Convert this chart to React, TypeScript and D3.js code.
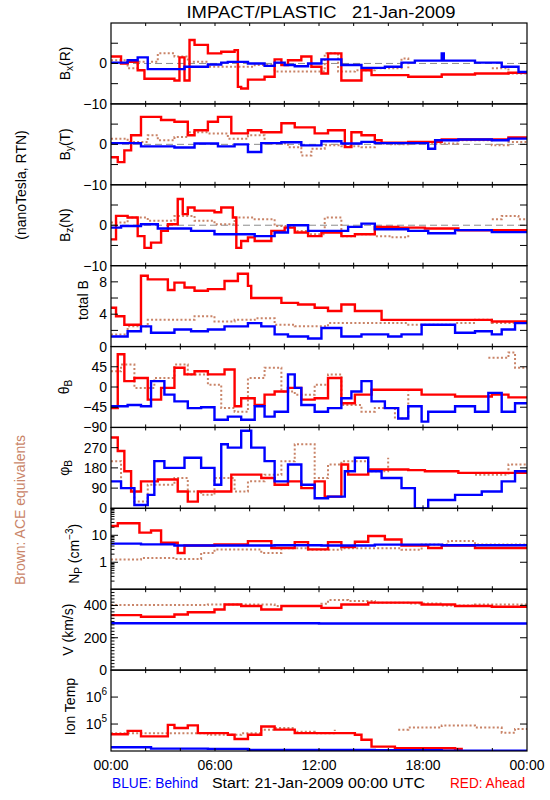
import React from 'react';
import * as d3 from 'd3';

type P = [number, number];
const N = NaN;

const hourTicks = [0, 2, 4, 6, 8, 10, 12, 14, 16, 18, 20, 22, 24];
const hourLabels: [number, string][] = [[0, '00:00'], [6, '06:00'], [12, '12:00'], [18, '18:00'], [24, '00:00']];

// Bx (nT)
const bxBlue: P[] = [[0,0.2],[0.96,0.8],[1.54,1.5],[2.12,-1.4],[4.24,-0.8],[5.59,-0.25],[6.36,0.2],[6.74,0.4],[7.9,0],[8.86,-0.6],[9.44,0.2],[10.02,-0.4],[10.6,-0.7],[11.37,0],[12.14,1.0],[13.29,-0.4],[14.45,-1.1],[15.8,-0.8],[16.76,0.2],[17.53,0.7],[19.08,2.5],[19.2,0.7],[21.0,0.2],[22.54,-0.8],[23.51,-2.1],[24,-2.1]];
const bxRed: P[] = [[0,1.7],[0.58,0],[0.96,0.4],[1.54,-1.7],[1.93,-3.8],[3.66,-4.2],[3.95,1.5],[4.24,-4.2],[4.53,5.8],[4.82,4.6],[5.59,2.5],[6.36,2.9],[7.13,3.3],[7.32,-5.8],[7.51,-6.2],[7.9,-4],[8.86,-3.3],[9.44,1],[9.83,-0.4],[10.21,0.8],[10.98,1.7],[11.56,-0.8],[12.14,-2.5],[12.52,2.5],[13.29,-4.2],[14.45,-1.7],[15.03,-2.9],[17.15,-3.3],[19.08,-2.75],[21.0,-2.5],[22.93,-2.3],[24,-2.3]];
const bxBrown: P[] = [[0,0.8],[0.96,-1.2],[1.54,0.4],[2.7,2.5],[3.66,1.7],[4.43,0.4],[5.59,-0.8],[8.29,-0.4],[9.44,-2],[11.75,-2],[12.33,2.5],[13.1,-2],[14.07,-1.7],[15.22,-1.2],[16.76,1.2],[17.15,-1.2],[17.92,N],[21.97,-1.2],[22.93,-2.5],[24,-2.5]];

// By (nT)
const byBlue: P[] = [[0,0.3],[1.73,-0.5],[3.66,-0.8],[4.82,0.2],[6.17,-0.5],[7.13,0],[7.9,-1.9],[8.67,0.3],[9.83,0.5],[10.98,-0.25],[12.14,0.75],[13.29,0.2],[14.45,0.6],[15.22,0.3],[18.3,-1.1],[18.7,1.0],[20.04,1.2],[21.97,1.0],[22.93,1.4],[24,1.4]];
const byRed: P[] = [[0,-3.2],[0.39,-4.4],[0.77,-1.5],[1.16,2.25],[1.73,6.8],[2.89,6.0],[3.66,5.6],[4.43,2.25],[4.82,3.5],[5.59,5.6],[6.17,6.8],[6.94,2.7],[7.9,3.5],[8.67,3.0],[9.83,5.2],[10.6,4.2],[11.75,2.7],[12.52,3.5],[13.49,-0.7],[13.87,3.0],[14.45,2.25],[15.22,1.0],[15.61,0.4],[17.15,0.6],[19.08,1.2],[22.93,1.7],[24,1.7]];
const byBrown: P[] = [[0,1.4],[0.96,0.6],[2.12,2.25],[2.7,1.0],[3.66,1.8],[4.43,3.0],[5.59,2.7],[6.74,1.4],[7.9,2.25],[8.86,0.2],[10.21,-0.7],[10.98,-2.75],[11.56,-1.1],[12.33,-0.25],[13.29,-0.5],[14.45,-0.7],[15.22,0.2],[15.99,0],[17.15,0.2],[20.04,1.0],[21.97,-0.25],[22.93,0.6],[24,0.6]];

// Bz (nT)
const bzBlue: P[] = [[0,-0.6],[0.58,-0.2],[1.73,0.25],[2.7,-0.8],[4.62,-1.4],[5.97,-2.25],[8.29,-2.7],[9.44,-1.8],[10.21,0],[11.37,-1.4],[13.68,-0.4],[14.45,0.4],[15.22,-1.0],[17.15,-1.4],[18.3,-2.0],[19.85,-1.2],[21.97,-1.7],[24,-1.7]];
const bzRed: P[] = [[0,-3.5],[0.29,2.3],[0.96,1.9],[1.54,-2.7],[1.93,-5.6],[2.31,-4.3],[2.89,-1.4],[3.28,0.25],[3.85,6.5],[4.14,2.75],[4.43,4.4],[4.82,3.6],[5.97,3.2],[6.36,4.4],[7.03,1.9],[7.23,-5.6],[7.51,-3.9],[7.9,-3.0],[8.29,-3.9],[9.25,-1.4],[10.02,-0.6],[10.6,-1.8],[11.37,-2.7],[12.14,-1.8],[13.29,-2.7],[14.07,-2.25],[15.22,-0.4],[16.57,-0.6],[18.11,-0.8],[20.04,-1.25],[24,-1.25]];
const bzBrown: P[] = [[0,0.7],[0.96,1.9],[2.12,1.1],[3.66,2.3],[4.82,1.1],[5.97,0.25],[7.13,1.9],[8.29,1.5],[9.44,-0.2],[10.6,-1.4],[11.37,-2.25],[12.33,1.9],[13.29,-2.7],[14.07,-2.25],[15.22,-2.7],[16.18,-3.0],[17.15,-2.25],[17.92,N],[21.97,1.5],[22.54,2.3],[23.51,1.5],[24,1.5]];

// total B (nT)
const btBlue: P[] = [[0,1.25],[0.96,1.9],[1.73,2.5],[2.31,1.7],[3.66,2.1],[4.62,1.9],[5.59,2.1],[6.55,2.5],[7.9,2.9],[8.67,2.5],[9.44,1.5],[10.21,1.25],[11.37,1.0],[12.14,2.3],[13.29,1.25],[14.45,1.5],[15.99,1.25],[16.76,1.5],[17.92,2.7],[19.85,1.7],[21.0,1.9],[21.97,1.5],[22.54,2.1],[23.31,2.9],[24,2.9]];
const btRed: P[] = [[0,4.8],[0.29,3.75],[0.77,2.7],[1.73,8.75],[2.12,8.3],[3.28,7.0],[3.66,7.9],[4.24,7.3],[4.82,6.9],[5.59,7.1],[6.55,8.1],[7.32,9.0],[7.9,7.5],[8.09,6.0],[9.44,6.0],[9.83,5.4],[10.79,5.2],[11.75,4.8],[12.52,4.4],[13.29,5.2],[14.07,4.4],[15.61,3.3],[21.97,3.1],[24,3.1]];
const btBrown: P[] = [[0,1.5],[0.96,2.5],[2.12,3.3],[4.82,3.75],[5.97,3.1],[7.13,3.3],[8.29,3.5],[9.44,2.7],[10.6,2.5],[12.52,2.9],[17.15,2.7],[19.85,2.9],[21.0,3.3],[21.97,2.9],[24,2.9]];

// theta_B (deg)
const thBlue: P[] = [[0,-43],[0.96,-40],[1.73,-43],[2.31,13],[3.08,-17],[3.66,-32],[4.43,-47],[5.2,-45],[5.97,-73],[6.74,-66],[7.51,-73],[8.29,-43],[8.86,-66],[9.44,-55],[10.21,28],[10.6,-2],[10.98,-40],[11.75,-55],[12.52,-47],[13.29,-25],[13.87,-10],[14.45,13],[15.03,-32],[15.8,-47],[16.57,-70],[17.15,-43],[17.92,-77],[18.3,-55],[19.85,-43],[21.0,-55],[21.77,-13],[22.54,-55],[23.31,-36],[24,-36]];
const thRed: P[] = [[0,-47],[0.39,73],[0.77,13],[1.35,20],[2.12,-28],[2.89,-2],[3.66,43],[4.24,28],[4.82,35],[5.59,28],[6.55,39],[7.13,-43],[7.51,-25],[8.29,-40],[8.86,-17],[9.44,-10],[10.21,-2],[10.98,-28],[11.75,-25],[12.52,20],[13.29,-36],[14.07,-17],[15.03,-6],[17.92,-17],[19.85,-21],[21.97,-17],[22.93,-23],[24,-23]];
const thBrown: P[] = [[0,35],[0.58,50],[1.35,-2],[2.5,20],[3.66,50],[4.43,28],[5.59,5],[6.36,-47],[7.13,-55],[7.9,20],[8.86,43],[9.83,-10],[10.6,-17],[11.75,5],[12.52,28],[13.29,-40],[14.45,-55],[15.22,-47],[16.38,-70],[17.15,-10],[17.92,N],[21.77,65],[22.93,77],[23.31,43],[24,43]];

// phi_B (deg)
const phBlue: P[] = [[0,120],[0.58,90],[1.35,15],[2.12,60],[2.5,210],[3.08,180],[4.24,225],[5.2,180],[5.97,105],[6.36,285],[6.74,270],[7.51,345],[8.09,270],[8.86,210],[9.44,120],[10.21,195],[10.98,105],[11.75,45],[12.52,52],[13.49,165],[14.07,225],[14.84,165],[15.61,135],[16.76,90],[17.53,0],[18.3,37],[19.85,60],[21.39,75],[22.54,120],[23.31,165],[24,165]];
const phRed: P[] = [[0,315],[0.39,255],[0.77,165],[1.16,75],[1.73,120],[2.7,128],[3.85,75],[4.43,30],[5.01,75],[6.94,150],[8.67,135],[9.44,105],[10.21,120],[10.98,90],[11.75,120],[12.33,52],[13.29,195],[13.68,150],[14.84,173],[17.15,170],[18.11,165],[20.04,158],[24,160]];
const phBrown: P[] = [[0,210],[0.58,90],[1.35,30],[2.12,105],[3.66,135],[4.43,75],[5.2,60],[5.97,135],[7.13,75],[7.9,120],[8.86,150],[9.83,210],[10.6,285],[11.75,135],[12.52,195],[13.29,210],[14.84,165],[15.99,225],[16.76,N],[21.0,150],[22.93,195],[24,195]];

// Np (cm^-3)
const npBlue: P[] = [[0,4.9],[1.73,4.6],[3.66,4.2],[9.44,4.3],[12.14,4.2],[15.22,4.5],[19.08,4.3],[24,4.3]];
const npRed: P[] = [[0,22],[0.39,28],[1.64,12.6],[2.31,15],[2.89,5.3],[3.85,2.2],[4.24,4.2],[5.97,4.6],[7.9,6.1],[9.25,3.4],[10.6,5.6],[11.37,3.0],[12.52,5.6],[13.29,3.7],[14.07,5.8],[14.84,9.4],[15.8,7.0],[16.76,4.2],[18.3,3.4],[19.08,4.2],[21.0,3.4],[24,3.4]];
const npBrown: P[] = [[0,1.26],[1.73,1.45],[3.66,1.33],[5.2,2.2],[5.97,3.0],[8.67,2.2],[9.83,3.3],[11.37,2.9],[13.29,3.3],[16.76,2.9],[17.92,4.6],[19.46,6.1],[21.0,4.6],[24,4.6]];

// V (km/s)
const vBlue: P[] = [[0,290],[12,288],[24,283]];
const vRed: P[] = [[0,340],[1.73,330],[3.66,344],[4.43,358],[5.97,375],[6.55,406],[7.51,396],[8.67,375],[9.83,396],[12.14,385],[13.29,406],[14.84,417],[17.92,406],[19.85,396],[21.97,392],[24,392]];
const vBrown: P[] = [[0,402],[5.59,406],[9.44,396],[12.14,410],[12.52,433],[13.68,427],[15.22,417],[17.15,412],[19.08,400],[21,406],[24,406]];

// Ion temperature (K)
const tBlue: P[] = [[0,13800],[2.31,12300],[5.59,12000],[7.9,11000],[15.22,10700],[19.08,10300],[24,10300]];
const tRed: P[] = [[0,42000],[0.96,56000],[1.73,35000],[3.28,93000],[3.66,71000],[4.43,89000],[5.01,46000],[6.74,40000],[7.13,28000],[7.9,40000],[8.67,81000],[9.44,62000],[10.6,46000],[14.07,40000],[14.45,26000],[15.03,14500],[16.38,12600],[19.85,12000],[20.23,9800],[24,9800]];
const tBrown: P[] = [[0,46000],[5.59,40000],[7.51,46000],[8.67,62000],[9.44,71000],[10.6,52000],[11.75,46000],[12.91,62000],[16.18,N],[16.57,62000],[17.15,74000],[19.08,89000],[21.0,74000],[22.54,48000],[23.31,66000],[24,66000]];

const BLUE = '#0000ff';
const RED = '#ff0000';
const BROWN = '#c98468';
const FONT = '"Liberation Sans", Arial, sans-serif';

const X0 = 111, X1 = 527, TOP = 23, BOTTOM = 751;
const PH = (BOTTOM - TOP) / 9;

type Label = { v: number; t: React.ReactNode };
type Panel = {
  log?: boolean;
  domain: [number, number];
  blue: P[]; red: P[]; brown: P[];
  ticks: number[];
  labels: Label[];
  minor?: number[];
  zero?: boolean;
  ylabel: React.ReactNode;
  lx: number;
  ly?: number;
};

const sub = (s: string) => <tspan fontSize={10} dy={4}>{s}</tspan>;

const panels: Panel[] = [
  { domain: [-10, 10], blue: bxBlue, red: bxRed, brown: bxBrown, ticks: [-5, 0, 5], labels: [{ v: 0, t: '0' }, { v: -10, t: '\u221210' }], zero: true,
    ylabel: <>B{sub('x')}<tspan dy={-4}>(R)</tspan></>, lx: 65 },
  { domain: [-10, 10], blue: byBlue, red: byRed, brown: byBrown, ticks: [-5, 0, 5], labels: [{ v: 0, t: '0' }, { v: -10, t: '\u221210' }], zero: true,
    ylabel: <>B{sub('y')}<tspan dy={-4}>(T)</tspan></>, lx: 65 },
  { domain: [-10, 10], blue: bzBlue, red: bzRed, brown: bzBrown, ticks: [-5, 0, 5], labels: [{ v: 0, t: '0' }, { v: -10, t: '\u221210' }], zero: true,
    ylabel: <>B{sub('z')}<tspan dy={-4}>(N)</tspan></>, lx: 65 },
  { domain: [0, 10], blue: btBlue, red: btRed, brown: btBrown, ticks: [2, 4, 6, 8], labels: [{ v: 0, t: '0' }, { v: 4, t: '4' }, { v: 8, t: '8' }],
    ylabel: <>total B</>, lx: 83, ly: -6 },
  { domain: [-90, 90], blue: thBlue, red: thRed, brown: thBrown, ticks: [-45, 0, 45], labels: [{ v: 45, t: '45' }, { v: 0, t: '0' }, { v: -45, t: '\u221245' }, { v: -90, t: '\u221290' }],
    ylabel: <>θ{sub('B')}</>, lx: 64 },
  { domain: [0, 360], blue: phBlue, red: phRed, brown: phBrown, ticks: [90, 180, 270], labels: [{ v: 270, t: '270' }, { v: 180, t: '180' }, { v: 90, t: '90' }, { v: 0, t: '0' }],
    ylabel: <>φ{sub('B')}</>, lx: 64 },
  { log: true, domain: [0.1, 100], blue: npBlue, red: npRed, brown: npBrown, ticks: [1, 10], labels: [{ v: 10, t: '10' }, { v: 1, t: '1' }],
    minor: [0.2,0.3,0.4,0.5,0.6,0.7,0.8,0.9,2,3,4,5,6,7,8,9,20,30,40,50,60,70,80,90],
    ylabel: <>N{sub('P')}<tspan dy={-4}> (cm</tspan><tspan fontSize={10} dy={-5}>−3</tspan><tspan dy={5}>)</tspan></>, lx: 74, ly: 5 },
  { domain: [0, 500], blue: vBlue, red: vRed, brown: vBrown, ticks: [200, 400], labels: [{ v: 400, t: '400' }, { v: 200, t: '200' }, { v: 0, t: '0' }],
    minor: d3.range(20, 500, 20),
    ylabel: <>V (km/s)</>, lx: 68 },
  { log: true, domain: [1e4, 1e7], blue: tBlue, red: tRed, brown: tBrown, ticks: [1e5, 1e6],
    labels: [{ v: 1e6, t: <>10<tspan fontSize={10} dy={-6}>6</tspan></> }, { v: 1e5, t: <>10<tspan fontSize={10} dy={-6}>5</tspan></> }],
    ylabel: <>Ion Temp</>, lx: 70, ly: -4 },
];

export default function App() {
  const x = d3.scaleLinear().domain([0, 24]).range([X0, X1]);

  return (
    <svg width={550} height={800} style={{ position: 'absolute', left: 0, top: 0, background: '#fff' }} fontFamily={FONT}>
      <rect x={0} y={0} width={550} height={800} fill="#fff" />
      <text x={321} y={18} fontSize={16} textAnchor="middle" textLength={269} lengthAdjust="spacingAndGlyphs">{'IMPACT/PLASTIC\u00a0\u00a0\u00a021-Jan-2009'}</text>
      <defs>
        {panels.map((p, i) => (
          <clipPath id={`clip${i}`} key={i}>
            <rect x={X0} y={TOP + i * PH} width={X1 - X0} height={PH} />
          </clipPath>
        ))}
      </defs>
      {panels.map((p, i) => {
        const y0 = TOP + i * PH;
        const y1 = y0 + PH;
        const y = (p.log ? d3.scaleLog() : d3.scaleLinear()).domain(p.domain).range([y1, y0]) as d3.ScaleContinuousNumeric<number, number>;
        const line = d3.line<P>().defined(d => !isNaN(d[1])).x(d => x(d[0])).y(d => y(d[1])).curve(d3.curveStepAfter);
        const mid = (y0 + y1) / 2 + (p.ly || 0);
        return (
          <g key={i}>
            {p.zero && <line x1={X0} x2={X1} y1={y(0)} y2={y(0)} stroke="#8c8c8c" strokeWidth={1} strokeDasharray="7,4" />}
            <g clipPath={`url(#clip${i})`} fill="none">
              <path d={line(p.brown) || ''} stroke={BROWN} strokeWidth={2} strokeDasharray="2,2.2" />
              <path d={line(p.red) || ''} stroke={RED} strokeWidth={2.4} />
              <path d={line(p.blue) || ''} stroke={BLUE} strokeWidth={2.4} />
            </g>
            <rect x={X0} y={y0} width={X1 - X0} height={PH} fill="none" stroke="#000" strokeWidth={1.2} />
            {hourTicks.slice(1, -1).map(h => (
              <g key={h} stroke="#000">
                <line x1={x(h)} x2={x(h)} y1={y0} y2={y0 + 3} />
                <line x1={x(h)} x2={x(h)} y1={y1} y2={y1 - 3} />
              </g>
            ))}
            {p.ticks.map(t => (
              <g key={t} stroke="#000">
                <line x1={X0} x2={X0 + 7} y1={y(t)} y2={y(t)} />
                <line x1={X1} x2={X1 - 7} y1={y(t)} y2={y(t)} />
              </g>
            ))}
            {(p.minor || []).map(t => (
              <line key={t} x1={X0} x2={X0 + 3.5} y1={y(t)} y2={y(t)} stroke="#000" />
            ))}
            {p.labels.map((l, k) => (
              <text key={k} x={107} y={y(l.v)} fontSize={14} textAnchor="end" dominantBaseline="central">{l.t}</text>
            ))}
            <text transform={`translate(${p.lx},${mid}) rotate(-90)`} fontSize={14} textAnchor="middle" dominantBaseline="central">{p.ylabel}</text>
          </g>
        );
      })}
      {hourLabels.map(([h, s], k) => (
        <text key={k} x={x(h)} y={770} fontSize={14} textAnchor="middle">{s}</text>
      ))}
      <text x={112} y={788} fontSize={14} fill={BLUE} textLength={86} lengthAdjust="spacingAndGlyphs">BLUE: Behind</text>
      <text x={212} y={788} fontSize={14} textLength={213} lengthAdjust="spacingAndGlyphs">Start: 21-Jan-2009 00:00 UTC</text>
      <text x={450} y={788} fontSize={14} fill={RED} textLength={75} lengthAdjust="spacingAndGlyphs">RED: Ahead</text>
      <text transform="translate(21,185) rotate(-90)" fontSize={14} textAnchor="middle" dominantBaseline="central">(nanoTesla, RTN)</text>
      <text transform="translate(20,510) rotate(-90)" fontSize={14} fill={BROWN} textAnchor="middle" dominantBaseline="central">Brown: ACE equivalents</text>
    </svg>
  );
}
